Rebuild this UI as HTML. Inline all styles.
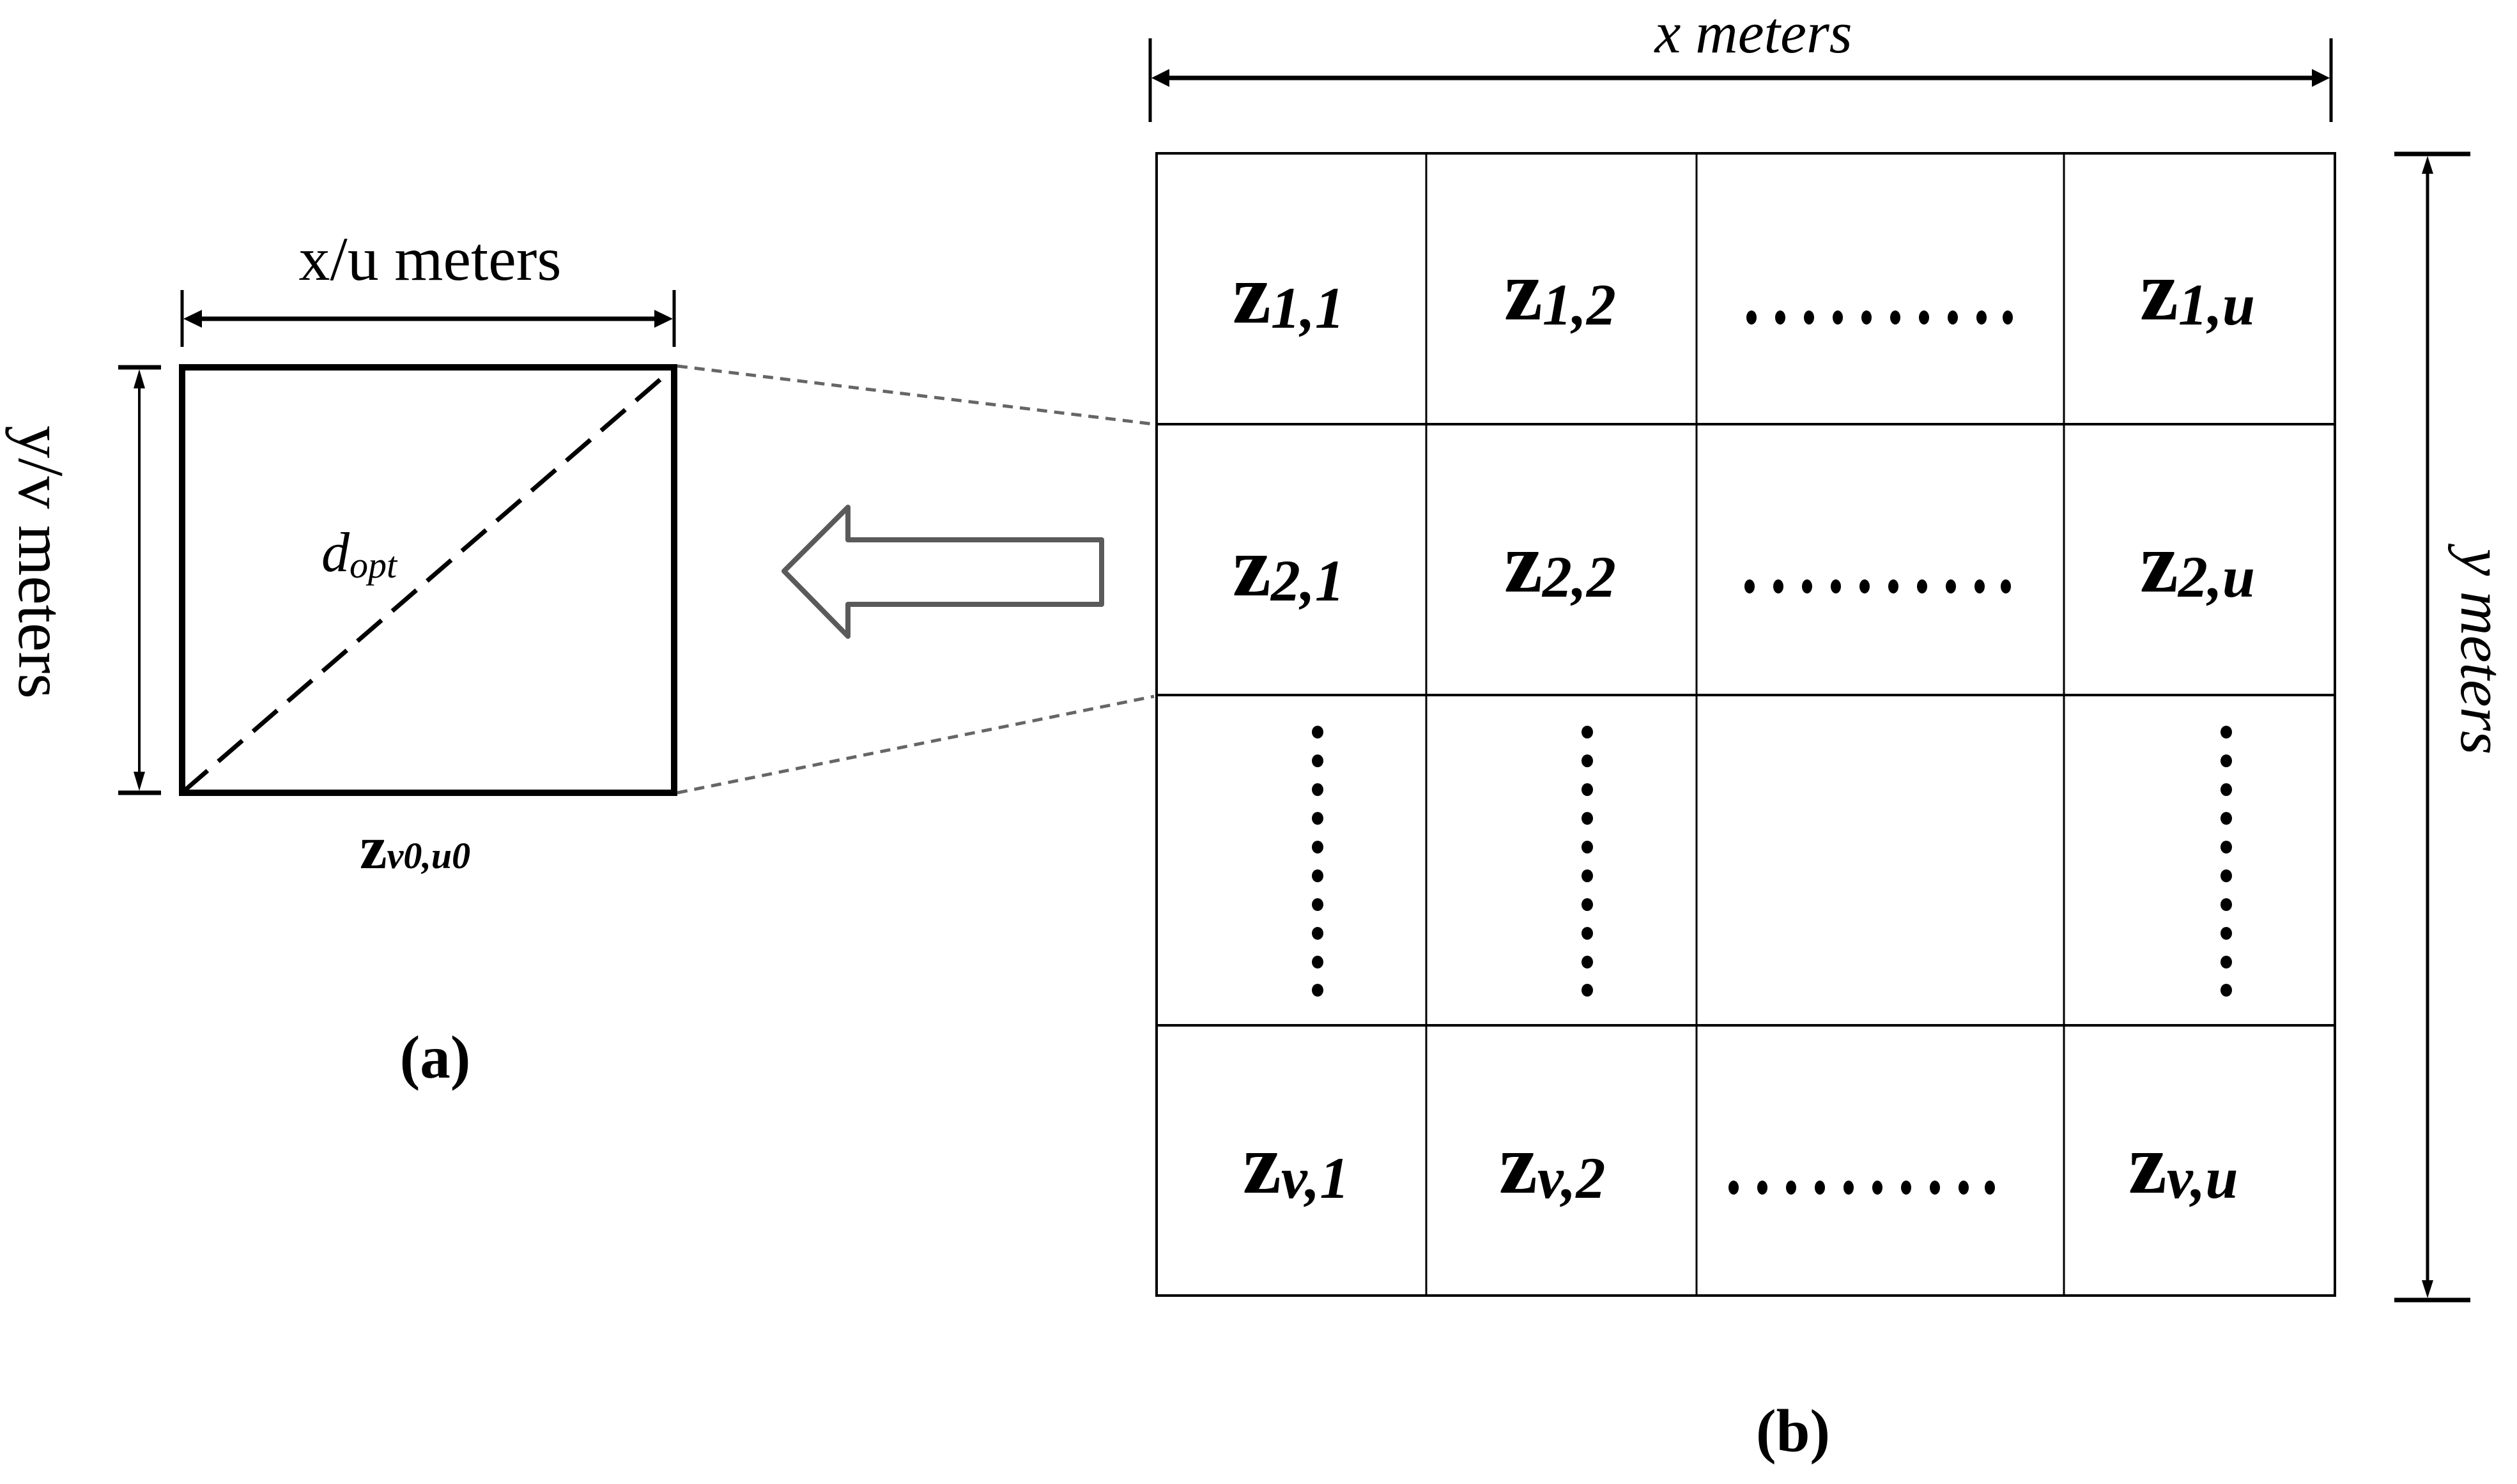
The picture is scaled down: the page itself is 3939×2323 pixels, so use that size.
<!DOCTYPE html>
<html><head><meta charset="utf-8"><style>
html,body{margin:0;padding:0;background:#fff;}
svg{display:block;}
text{font-family:"Liberation Serif",serif;fill:#000;}
</style></head><body>
<svg width="3939" height="2323" viewBox="0 0 3939 2323" xmlns="http://www.w3.org/2000/svg">
<!-- (a) x/u arrow -->
<line x1="285" y1="454" x2="285" y2="543" stroke="#000" stroke-width="5"/>
<line x1="1055" y1="454" x2="1055" y2="543" stroke="#000" stroke-width="5"/>
<line x1="300" y1="499" x2="1040" y2="499" stroke="#000" stroke-width="7"/>
<polygon points="287,499 316,485 316,513" fill="#000"/>
<polygon points="1053,499 1024,485 1024,513" fill="#000"/>
<text x="673" y="438" font-size="98" text-anchor="middle">x/u meters</text>
<!-- y/v arrow -->
<line x1="185" y1="575" x2="252" y2="575" stroke="#000" stroke-width="7"/>
<line x1="185" y1="1241" x2="252" y2="1241" stroke="#000" stroke-width="7"/>
<line x1="218" y1="590" x2="218" y2="1226" stroke="#000" stroke-width="4"/>
<polygon points="218,578 209,608 227,608" fill="#000"/>
<polygon points="218,1238 209,1208 227,1208" fill="#000"/>
<text x="0" y="0" font-size="102" text-anchor="middle" transform="translate(30,880) rotate(90)">y/v meters</text>
<!-- rect -->
<rect x="285" y="575" width="770" height="666" fill="none" stroke="#000" stroke-width="10"/>
<line x1="287" y1="1239" x2="1053" y2="577" stroke="#000" stroke-width="7" stroke-dasharray="50,22"/>
<text x="503" y="894" font-size="88" font-style="italic">d<tspan font-size="58" dy="10">opt</tspan></text>
<text x="563" y="1359" font-size="96" font-weight="bold">z<tspan font-size="58" font-style="italic">v0,u0</tspan></text>
<text x="681" y="1687" font-size="95" font-weight="bold" text-anchor="middle">(a)</text>
<!-- gray dashed -->
<line x1="1060" y1="573" x2="1806" y2="664" stroke="#666" stroke-width="5" stroke-dasharray="16,11"/>
<line x1="1060" y1="1241" x2="1806" y2="1090" stroke="#666" stroke-width="5" stroke-dasharray="16,11"/>
<!-- hollow arrow -->
<polygon points="1227,894 1327,794 1327,845 1724,845 1724,946 1327,946 1327,996" fill="#fff" stroke="#5a5a5a" stroke-width="8" stroke-linejoin="round"/>
<!-- x meters -->
<line x1="1800" y1="60" x2="1800" y2="191" stroke="#000" stroke-width="5"/>
<line x1="3648" y1="60" x2="3648" y2="191" stroke="#000" stroke-width="5"/>
<line x1="1815" y1="122" x2="3633" y2="122" stroke="#000" stroke-width="7"/>
<polygon points="1802,122 1830,108 1830,136" fill="#000"/>
<polygon points="3646,122 3618,108 3618,136" fill="#000"/>
<text x="2744" y="82" font-size="92" font-style="italic" text-anchor="middle">x meters</text>
<!-- y meters -->
<line x1="3747" y1="241" x2="3866" y2="241" stroke="#000" stroke-width="7"/>
<line x1="3747" y1="2035" x2="3866" y2="2035" stroke="#000" stroke-width="7"/>
<line x1="3799" y1="255" x2="3799" y2="2021" stroke="#000" stroke-width="5"/>
<polygon points="3799,244 3790,272 3808,272" fill="#000"/>
<polygon points="3799,2032 3790,2004 3808,2004" fill="#000"/>
<text x="0" y="0" font-size="96" font-style="italic" text-anchor="middle" transform="translate(3852,1020) rotate(90)">y meters</text>
<!-- grid -->
<rect x="1810" y="240" width="1844" height="1788" fill="none" stroke="#000" stroke-width="4"/>
<line x1="1810" y1="664" x2="3654" y2="664" stroke="#000" stroke-width="4"/>
<line x1="1810" y1="1088" x2="3654" y2="1088" stroke="#000" stroke-width="4"/>
<line x1="1810" y1="1605" x2="3654" y2="1605" stroke="#000" stroke-width="4"/>
<line x1="2232" y1="240" x2="2232" y2="2028" stroke="#000" stroke-width="3"/>
<line x1="2655" y1="240" x2="2655" y2="2028" stroke="#000" stroke-width="3"/>
<line x1="3230" y1="240" x2="3230" y2="2028" stroke="#000" stroke-width="3"/>
<g font-size="135" font-weight="bold">
<text x="1929" y="505">z<tspan font-size="92" font-style="italic" dy="8">1,1</tspan></text>
<text x="2354" y="500">z<tspan font-size="92" font-style="italic" dy="8">1,2</tspan></text>
<text x="3349" y="500">z<tspan font-size="92" font-style="italic" dy="8">1,u</tspan></text>
<text x="1929" y="932">z<tspan font-size="92" font-style="italic" dy="8">2,1</tspan></text>
<text x="2354" y="926">z<tspan font-size="92" font-style="italic" dy="8">2,2</tspan></text>
<text x="3349" y="926">z<tspan font-size="92" font-style="italic" dy="8">2,u</tspan></text>
<text x="1945" y="1867">z<tspan font-size="92" font-style="italic" dy="8">v,1</tspan></text>
<text x="2346" y="1867">z<tspan font-size="92" font-style="italic" dy="8">v,2</tspan></text>
<text x="3331" y="1867">z<tspan font-size="92" font-style="italic" dy="8">v,u</tspan></text>
</g>
<g fill="#000">
<g id="hd1">
<ellipse cx="2741" cy="497" rx="8" ry="11"/><ellipse cx="2786" cy="497" rx="8" ry="11"/><ellipse cx="2831" cy="497" rx="8" ry="11"/><ellipse cx="2876" cy="497" rx="8" ry="11"/><ellipse cx="2921" cy="497" rx="8" ry="11"/><ellipse cx="2966" cy="497" rx="8" ry="11"/><ellipse cx="3011" cy="497" rx="8" ry="11"/><ellipse cx="3056" cy="497" rx="8" ry="11"/><ellipse cx="3101" cy="497" rx="8" ry="11"/><ellipse cx="3142" cy="497" rx="8" ry="11"/>
</g>
<use href="#hd1" transform="translate(-3,421)"/>
<use href="#hd1" transform="translate(-28,1362)"/>
<g id="vd1">
<ellipse cx="2062" cy="1146" rx="9" ry="10"/><ellipse cx="2062" cy="1191" rx="9" ry="10"/><ellipse cx="2062" cy="1236" rx="9" ry="10"/><ellipse cx="2062" cy="1281" rx="9" ry="10"/><ellipse cx="2062" cy="1326" rx="9" ry="10"/><ellipse cx="2062" cy="1371" rx="9" ry="10"/><ellipse cx="2062" cy="1416" rx="9" ry="10"/><ellipse cx="2062" cy="1461" rx="9" ry="10"/><ellipse cx="2062" cy="1506" rx="9" ry="10"/><ellipse cx="2062" cy="1550" rx="9" ry="10"/>
</g>
<use href="#vd1" transform="translate(422,0)"/>
<use href="#vd1" transform="translate(1422,0)"/>
</g>
<text x="2806" y="2272" font-size="95" font-weight="bold" text-anchor="middle">(b)</text>
</svg>
</body></html>
